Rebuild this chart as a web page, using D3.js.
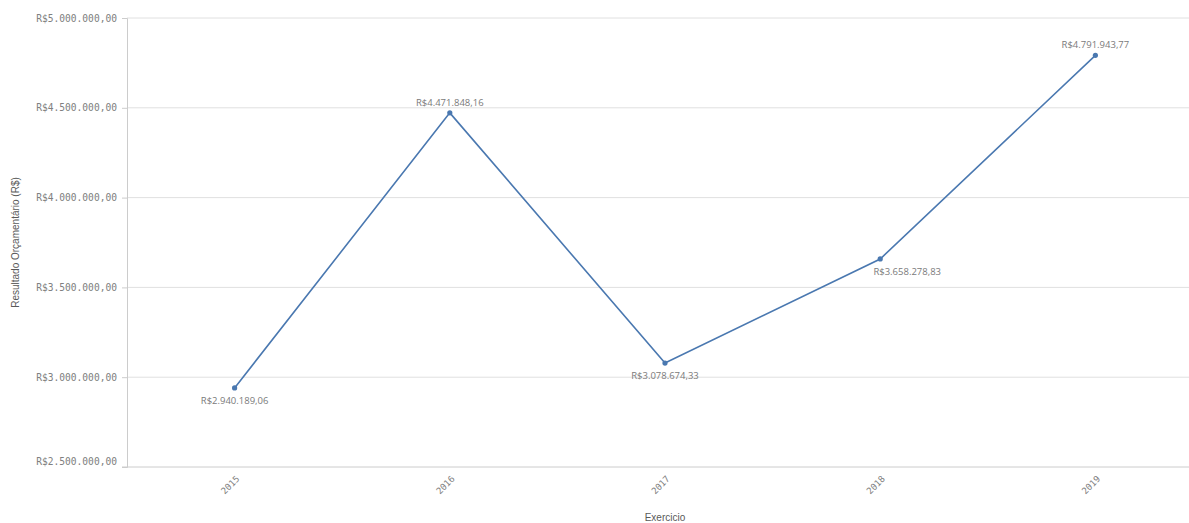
<!DOCTYPE html>
<html>
<head>
<meta charset="utf-8">
<script src="https://cdn.jsdelivr.net/npm/d3@7"></script>
<style>
  body { margin: 0; background: #fff; }
  svg { display: block; }
</style>
</head>
<body>
<svg id="chart"></svg>
<script>
// data
const years = ["2015", "2016", "2017", "2018", "2019"];
const resultado = [2940189.06, 4471848.16, 3078674.33, 3658278.83, 4791943.77];
const yTicks = [2500000, 3000000, 3500000, 4000000, 4500000, 5000000];
// label placement: below / above, per point
const labelPos = ["below", "above", "below", "below-right", "above"];

const width = 1189, height = 523;
const plotLeft = 127, plotTop = 18, plotBottom = 467;

const svg = d3.select("#chart")
    .attr("width", width)
    .attr("height", height);

const br = d3.formatLocale({decimal: ",", thousands: ".", grouping: [3], currency: ["R$", ""]});
const money = br.format("$,.2f");

const x = d3.scaleBand()
    .domain(years)
    .range([plotLeft, 1203]);

const y = d3.scaleLinear()
    .domain([2500000, 5000000])
    .range([plotBottom, plotTop]);

// gridlines
svg.append("g")
    .selectAll("line")
    .data(yTicks.slice(1))
    .join("line")
    .attr("x1", plotLeft)
    .attr("x2", width)
    .attr("y1", d => y(d))
    .attr("y2", d => y(d))
    .attr("stroke", "#e0e0e0")
    .attr("stroke-width", 1);

// y axis
const yAxis = d3.axisLeft(y)
    .tickValues(yTicks)
    .tickSize(5)
    .tickPadding(5)
    .tickFormat(money);

const gy = svg.append("g")
    .attr("transform", "translate(" + plotLeft + ",0)")
    .call(yAxis);
gy.select(".domain").attr("stroke", "#cccccc");
gy.selectAll(".tick line").attr("stroke", "#cccccc");
gy.selectAll(".tick text")
    .attr("fill", "#808080")
    .style("font-family", "'DejaVu Sans Mono', monospace")
    .style("font-size", "9.6px")
    .attr("dy", (d, i) => i === 0 ? "-0.25em" : "0.32em");

// x axis
const xAxis = d3.axisBottom(x)
    .tickSize(0)
    .tickPadding(0);

const gx = svg.append("g")
    .attr("transform", "translate(0," + plotBottom + ")")
    .call(xAxis);
gx.select(".domain").remove();
gx.append("line")
    .attr("x1", plotLeft - 5)
    .attr("x2", width)
    .attr("stroke", "#cccccc");
gx.selectAll(".tick text")
    .attr("fill", "#808080")
    .style("font-family", "'DejaVu Sans Mono', monospace")
    .style("font-size", "9px")
    .attr("text-anchor", "end")
    .attr("transform", "translate(1,8) rotate(-45)")
    .attr("dy", "0.7em");

// axis titles
svg.append("text")
    .attr("x", x("2017") + x.bandwidth() / 2)
    .attr("y", 521)
    .attr("text-anchor", "middle")
    .attr("fill", "#595959")
    .style("font-family", "'Liberation Sans', Arial, sans-serif")
    .style("font-size", "10px")
    .text("Exercicio");

svg.append("text")
    .attr("transform", "translate(19," + ((plotTop + plotBottom) / 2) + ") rotate(-90)")
    .attr("text-anchor", "middle")
    .attr("fill", "#595959")
    .style("font-family", "'Liberation Sans', Arial, sans-serif")
    .style("font-size", "10px")
    .text("Resultado Orçamentário (R$)");

// line
const cx = i => x(years[i]) + x.bandwidth() / 2;
const line = d3.line()
    .x((d, i) => cx(i))
    .y(d => y(d));

svg.append("path")
    .datum(resultado)
    .attr("d", line)
    .attr("fill", "none")
    .attr("stroke", "#4a78b0")
    .attr("stroke-width", 1.6);

svg.selectAll(".pt")
    .data(resultado)
    .join("circle")
    .attr("class", "pt")
    .attr("cx", (d, i) => cx(i))
    .attr("cy", d => y(d))
    .attr("r", 2.6)
    .attr("fill", "#4a78b0");

svg.selectAll(".lbl")
    .data(resultado)
    .join("text")
    .attr("class", "lbl")
    .attr("x", (d, i) => labelPos[i] === "below-right" ? cx(i) + 27 : cx(i))
    .attr("y", (d, i) => labelPos[i] === "above" ? y(d) - 7 : y(d) + 16)
    .attr("text-anchor", "middle")
    .attr("fill", "#7a7a7a")
    .style("font-family", "'Open Sans', sans-serif")
    .style("font-size", "9.5px")
    .text(d => money(d));
</script>
</body>
</html>
